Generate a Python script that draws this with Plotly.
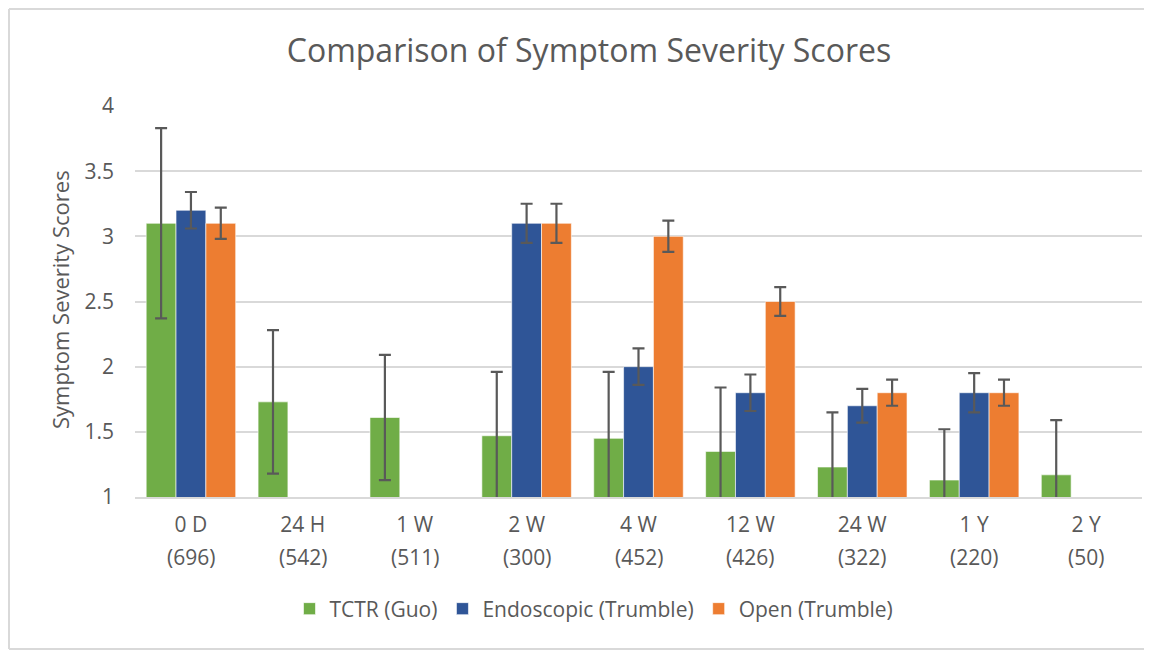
import plotly.graph_objects as go

# ── Colours (Excel default palette) ──────────────────────────────────────────
GREEN  = "#70AD47"
BLUE   = "#2F5597"
ORANGE = "#ED7D31"
TEXT   = "#595959"
GRID   = "#D9D9D9"
FONT   = "Open Sans, Noto Sans, sans-serif"

# ── Data ─────────────────────────────────────────────────────────────────────
periods = ["0 D", "24 H", "1 W", "2 W", "4 W", "12 W", "24 W", "1 Y", "2 Y"]
counts  = ["(696)", "(542)", "(511)", "(300)", "(452)", "(426)", "(322)", "(220)", "(50)"]

tctr_guo     = [3.10, 1.73, 1.61, 1.47, 1.45, 1.35, 1.23, 1.13, 1.17]
tctr_err     = [0.73, 0.55, 0.48, 0.49, 0.51, 0.49, 0.42, 0.39, 0.42]
endo_trumble = [3.20, None, None, 3.10, 2.00, 1.80, 1.70, 1.80, None]
endo_err     = [0.14, None, None, 0.15, 0.14, 0.14, 0.13, 0.15, None]
open_trumble = [3.10, None, None, 3.10, 3.00, 2.50, 1.80, 1.80, None]
open_err     = [0.12, None, None, 0.15, 0.12, 0.11, 0.10, 0.10, None]

y_ticks = [1, 1.5, 2, 2.5, 3, 3.5, 4]

# page body has an 8px margin, so the figure is sized/offset to fit the window
W, H = 1144, 642
ML, MR, MT, MB = 127, 10, 98, 153
PW, PH = W - ML - MR, H - MT - MB


def err(vals):
    return dict(type="data", array=vals, visible=True,
                color=TEXT, thickness=2.2, width=6)


fig = go.Figure()
for name, vals, e, col in [
    ("TCTR (Guo)", tctr_guo, tctr_err, GREEN),
    ("Endoscopic (Trumble)", endo_trumble, endo_err, BLUE),
    ("Open (Trumble)", open_trumble, open_err, ORANGE),
]:
    fig.add_trace(go.Bar(
        x=periods, y=vals, name=name,
        marker=dict(color=col, line=dict(color="white", width=0.6)),
        error_y=err(e),
    ))

# second line of each category label (sample size)
for p, c in zip(periods, counts):
    fig.add_annotation(x=p, y=-(549 - (MT + PH)) / PH, xref="x", yref="paper",
                       yanchor="middle", text=c, showarrow=False,
                       font=dict(size=21, color=TEXT, family=FONT))

# y-axis title
fig.add_annotation(x=(52 - ML) / PW, y=(MT + PH - 292) / PH, xref="paper", yref="paper",
                   text="Symptom Severity Scores", textangle=-90, showarrow=False,
                   xanchor="center", yanchor="middle",
                   font=dict(size=22, color=TEXT, family=FONT))

# outer chart border (left, top, bottom)
x_left, y_top, y_bot = (1 - ML) / PW, 1 + (MT - 1) / PH, -(H - 1 - MT - PH) / PH
for x0, y0, x1, y1 in [(x_left, y_bot, x_left, y_top),
                       (x_left, y_top, (W - ML) / PW, y_top),
                       (x_left, y_bot, (W - ML) / PW, y_bot)]:
    fig.add_shape(type="line", xref="paper", yref="paper", x0=x0, y0=y0, x1=x1, y1=y1,
                  line=dict(color=GRID, width=2))

fig.update_layout(
    width=W, height=H,
    paper_bgcolor="white", plot_bgcolor="white",
    font=dict(family=FONT, color=TEXT, size=21),
    margin=dict(l=ML, r=MR, t=MT, b=MB),
    title=dict(text="Comparison of Symptom Severity Scores",
               x=581 / W, xanchor="center", y=1 - 43 / H, yanchor="middle",
               font=dict(size=32, color=TEXT, family=FONT)),
    barmode="group", bargap=0.2, bargroupgap=0,
    xaxis=dict(showgrid=False, ticks="", tickfont=dict(size=21),
               ticklabelstandoff=8,
               showline=True, linecolor=GRID, linewidth=2),
    yaxis=dict(range=[1, 4], tickvals=y_ticks, ticktext=[f"{v:g}" for v in y_ticks],
               gridcolor=GRID, gridwidth=2, zeroline=False,
               tickfont=dict(size=21), ticks="", ticklabelstandoff=20),
    legend=dict(orientation="h", x=(586 - ML) / PW, xanchor="center",
                y=-(601 - (MT + PH)) / PH, yanchor="middle",
                font=dict(size=21), traceorder="normal"),
)

fig.write_html("out.html")
